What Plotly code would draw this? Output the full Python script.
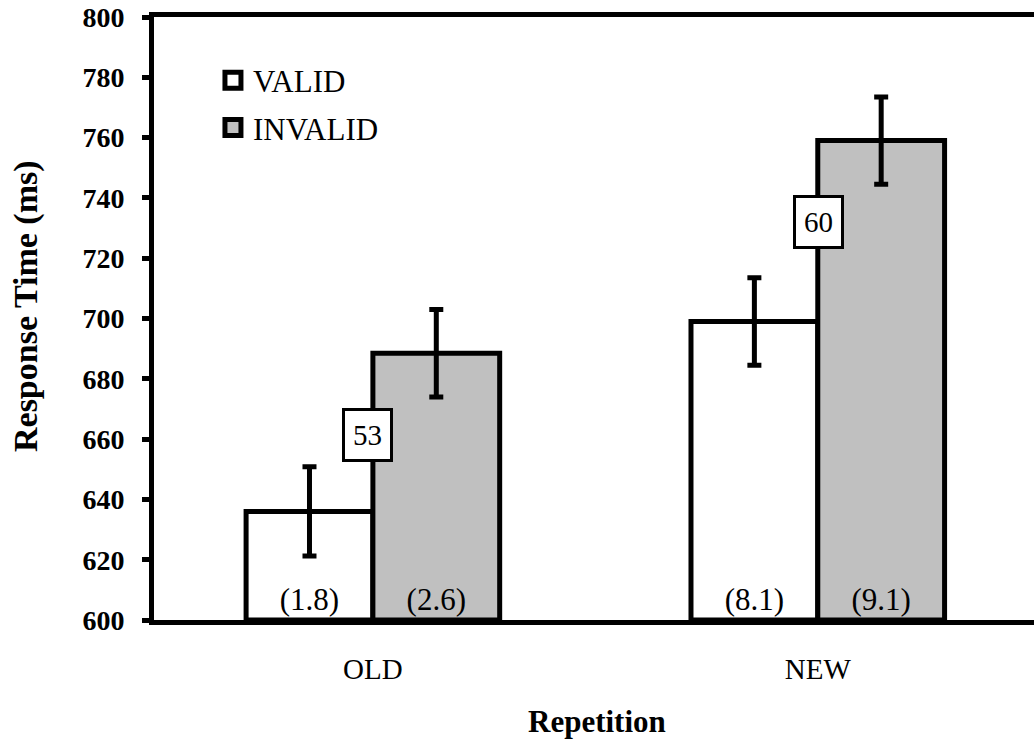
import plotly.graph_objects as go

categories = ["OLD", "NEW"]
valid_rt = [636, 699]
invalid_rt = [688.5, 759]
valid_err = [14.8, 14.5]
invalid_err = [14.5, 14.5]
valid_sd_labels = ["(1.8)", "(8.1)"]
invalid_sd_labels = ["(2.6)", "(9.1)"]
effect_labels = ["53", "60"]
effect_label_y = [661.5, 732]
y_ticks = list(range(600, 801, 20))

FONT = "Times New Roman, Liberation Serif, serif"
BASE = 600

fig = go.Figure()
fig.add_trace(go.Bar(
    x=categories, y=[v - BASE for v in valid_rt], base=BASE,
    name="VALID", showlegend=False,
    marker=dict(color="white", line=dict(color="black", width=5)),
    error_y=dict(type="data", array=valid_err, color="black", thickness=5, width=7),
    text=valid_sd_labels, textposition="inside", insidetextanchor="start",
    textfont=dict(family=FONT, size=31, color="black"), textangle=0,
))
fig.add_trace(go.Bar(
    x=categories, y=[v - BASE for v in invalid_rt], base=BASE,
    name="INVALID", showlegend=False,
    marker=dict(color="#c0c0c0", line=dict(color="black", width=5)),
    error_y=dict(type="data", array=invalid_err, color="black", thickness=5, width=7),
    text=invalid_sd_labels, textposition="inside", insidetextanchor="start",
    textfont=dict(family=FONT, size=31, color="black"), textangle=0,
))
# legend entries
fig.add_trace(go.Scatter(x=[None], y=[None], mode="markers", name="VALID", legendgroup="v",
                         marker=dict(symbol="square", size=16, color="white",
                                     line=dict(color="black", width=5))))
fig.add_trace(go.Scatter(x=[None], y=[None], mode="markers", name="INVALID", legendgroup="i",
                         marker=dict(symbol="square", size=16, color="#c0c0c0",
                                     line=dict(color="black", width=5))))

shifts = [-5, 1]
for i, (lab, yy) in enumerate(zip(effect_labels, effect_label_y)):
    fig.add_annotation(x=i, y=yy, xref="x", yref="y", text=lab, showarrow=False,
                       xshift=shifts[i],
                       font=dict(family=FONT, size=29, color="black"),
                       bgcolor="white", bordercolor="black", borderwidth=3, borderpad=8)

# axis titles
fig.add_annotation(xref="paper", yref="paper", x=0, y=0.5207, xshift=-128,
                   xanchor="center", yanchor="middle", textangle=-90, showarrow=False,
                   text="Response Time (ms)",
                   font=dict(family=FONT, size=34, color="black", weight="bold"))
fig.add_annotation(xref="paper", yref="paper", x=0.503, y=-0.169,
                   xanchor="center", yanchor="middle", showarrow=False,
                   text="Repetition",
                   font=dict(family=FONT, size=31, color="black", weight="bold"))

fig.update_layout(
    width=1034, height=744,
    margin=dict(l=154, r=0, t=17, b=124),
    plot_bgcolor="white", paper_bgcolor="white",
    barmode="group", bargap=0.43, bargroupgap=0,
    font=dict(family=FONT, color="black"),
    showlegend=True,
    legend=dict(x=0.067, y=0.9395, xanchor="left", yanchor="top",
                font=dict(family=FONT, size=31, color="black"),
                bgcolor="rgba(0,0,0,0)", tracegroupgap=4, traceorder="grouped",
                itemsizing="trace"),
    xaxis=dict(range=[-0.492, 1.486], showline=True, linecolor="black", linewidth=5,
               mirror=True, ticks="", showgrid=False, zeroline=False,
               ticklabelstandoff=19,
               tickfont=dict(family=FONT, size=29, color="black")),
    yaxis=dict(range=[600, 800], tickvals=y_ticks, showline=True, linecolor="black",
               linewidth=5, ticks="outside", ticklen=7, tickwidth=5, tickcolor="black",
               showgrid=False, zeroline=False, ticklabelstandoff=12,
               ticklabeloverflow="allow",
               tickfont=dict(family=FONT, size=28, color="black", weight="bold")),
)

fig.write_html("out.html", config={"displayModeBar": False},
               post_script="document.body.style.margin='0px';")
